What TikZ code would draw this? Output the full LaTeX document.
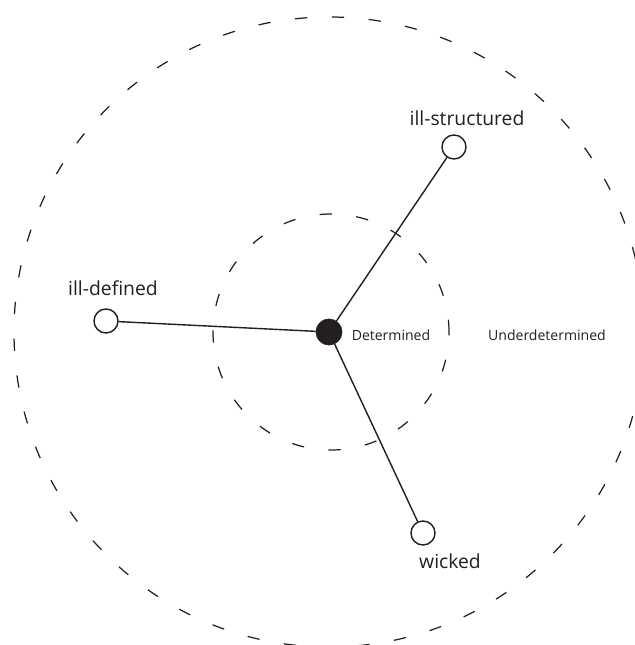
\documentclass[tikz,border=0pt]{standalone}
\usepackage{fontspec}
\setmainfont{Open Sans}
\usepackage{tikz}
\usetikzlibrary{positioning}
\definecolor{ink}{HTML}{231F20}
\tikzset{
  zone/.style={draw=ink, line width=0.7pt, dash pattern=on 7pt off 14pt},
  hub/.style={circle, draw=ink, fill=ink, minimum size=5.2mm, inner sep=0pt},
  leaf/.style={circle, draw=ink, fill=white, line width=0.8pt, minimum size=4.8mm, inner sep=0pt},
  link/.style={draw=ink, line width=0.8pt},
  big/.style={font=\fontsize{11}{13}\selectfont, text=ink, inner sep=1pt},
  small/.style={font=\fontsize{8}{10}\selectfont, text=ink, inner sep=1pt}
}
\begin{document}
\begin{tikzpicture}
\useasboundingbox (-6.58,-6.26) rectangle (6.12,6.64);
% regions
\draw[zone] (0,0) circle (6.3);
\draw[zone] (0.04,0) circle (2.36);
% problem types
\node[hub] (det) at (0,0) {};
\node[leaf] (idef) at (-4.46,0.22) {};
\node[leaf] (istr) at (2.50,3.70) {};
\node[leaf] (wick) at (1.88,-4.02) {};
\draw[link] (det) -- (idef);
\draw[link] (det) -- (istr);
\draw[link] (det) -- (wick);
% labels
\node[big] (ldef) at (-4.32,0.88) {ill-defined};
\node[big] (lstr) at (2.76,4.28) {ill-structured};
\node[big] (lwick) at (2.42,-4.58) {wicked};
\node[small] (ldet) at (1.24,-0.06) {Determined};
\node[small] (lund) at (4.36,-0.06) {Underdetermined};
\end{tikzpicture}
\end{document}
